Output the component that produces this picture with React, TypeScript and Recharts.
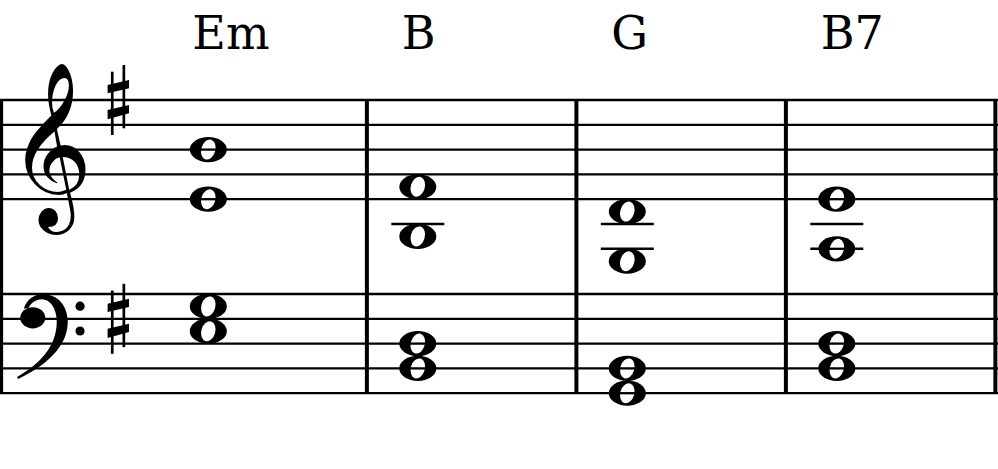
import React from 'react';
import { ScatterChart, Scatter, XAxis, YAxis, ReferenceLine } from 'recharts';

// x: measure units (the chord of measure i sits at x = i)
// y: diatonic steps, treble C4 = 0 (D4 = 1, E4 = 2, ...)
const X_DOMAIN: [number, number] = [-0.9943, 3.7695];
const Y_DOMAIN: [number, number] = [-19.758, 18.065];

const chordNames = ['Em', 'B', 'G', 'B7'];
const measureIndex = [0, 1, 2, 3];
// treble-clef notes (steps from C4): E4 B4 | B3 F#4 | G3 D4 | A3 E4
const trebleChords = [[2, 6], [-1, 3], [-3, 1], [-2, 2]];
// bass-clef notes (steps from C4): E3 G3 | B2 D3 | G2 B2 | B2 D3
const bassChords = [[-5, -3], [-8, -6], [-10, -8], [-8, -6]];
const BASS_SHIFT = -3.645;
const trebleLines = [2, 4, 6, 8, 10];
const bassLines = [-10, -8, -6, -4, -2];
const barlineX = [0.757, 1.757, 2.757, 3.757];
const systemStartX = -0.987;
const chordNameStep = 14.1;
const clefX = -0.752;
const keySigX = -0.4296;
const trebleClefStep = 4; // G4 line
const bassClefStep = -4; // F3 line
const sharpTrebleStep = 10; // F5
const sharpBassStep = -4; // F3

const STAFF_TOP = trebleLines[trebleLines.length - 1];
const STAFF_BOTTOM = bassLines[0] + BASS_SHIFT;

const isLine = (s: number) => Math.abs(s % 2) === 0;

const noteData = [
  ...trebleChords.flatMap((c, i) => c.map((s) => ({ x: measureIndex[i], y: s, onLine: isLine(s) }))),
  ...bassChords.flatMap((c, i) => c.map((s) => ({ x: measureIndex[i], y: s + BASS_SHIFT, onLine: isLine(s) }))),
];

const ledgerSteps = (chord: number[], low: number, high: number) => {
  const out: number[] = [];
  const mn = Math.min(...chord);
  const mx = Math.max(...chord);
  for (let l = low; l >= mn; l -= 2) out.push(l);
  for (let l = high; l <= mx; l += 2) out.push(l);
  return out;
};

const ledgerData = [
  ...trebleChords.flatMap((c, i) => ledgerSteps(c, 0, 12).map((l) => ({ x: measureIndex[i], y: l }))),
  ...bassChords.flatMap((c, i) => ledgerSteps(c, -12, 0).map((l) => ({ x: measureIndex[i], y: l + BASS_SHIFT }))),
];

const chordNameData = chordNames.map((n, i) => ({ x: measureIndex[i], y: chordNameStep, name: n }));

const symbolData = [
  { x: clefX, y: trebleClefStep, kind: 'treble' },
  { x: clefX, y: bassClefStep + BASS_SHIFT, kind: 'bass' },
  { x: keySigX, y: sharpTrebleStep, kind: 'sharp' },
  { x: keySigX, y: sharpBassStep + BASS_SHIFT, kind: 'sharp' },
];

const NoteOuter = (p: any) => <ellipse cx={p.cx} cy={p.cy} rx={18.5} ry={12.6} fill="#000" />;

const NoteHole = (p: any) => (
  <g>
    <ellipse cx={p.cx} cy={p.cy} rx={7} ry={10.2} transform={`rotate(16 ${p.cx} ${p.cy})`} fill="#fff" />
    {p.payload.onLine && (
      <line x1={p.cx - 10} x2={p.cx + 10} y1={p.cy} y2={p.cy} stroke="#000" strokeWidth={2.3} />
    )}
  </g>
);

const Ledger = (p: any) => (
  <line x1={p.cx - 26.5} x2={p.cx + 26.5} y1={p.cy} y2={p.cy} stroke="#000" strokeWidth={2.6} />
);

const ChordName = (p: any) => (
  <text x={p.cx - 16} y={p.cy} fontFamily="'DejaVu Serif', serif" fontSize={46} fill="#000">
    {p.payload.name}
  </text>
);

const Sharp = ({ cx, cy }: { cx: number; cy: number }) => (
  <g fill="#000">
    <rect x={cx - 7.4} y={cy - 28.3} width={2.7} height={63.3} />
    <rect x={cx + 4.2} y={cy - 35} width={2.7} height={63.3} />
    <polygon points={`${cx - 10.7},${cy - 15} ${cx + 10.7},${cy - 20} ${cx + 10.7},${cy - 11.7} ${cx - 10.7},${cy - 6.7}`} />
    <polygon points={`${cx - 10.7},${cy + 10} ${cx + 10.7},${cy + 5} ${cx + 10.7},${cy + 13.3} ${cx - 10.7},${cy + 19.3}`} />
  </g>
);

const BassClef = ({ cx, cy }: { cx: number; cy: number }) => (
  <g fill="#000" transform={`translate(${cx} ${cy})`}>
    <ellipse cx={-18} cy={-1} rx={12.5} ry={10.6} />
    <path d="M -27,-10 C -24,-20 -16,-24.5 -8,-24.5 C 8,-24.5 17,-12 17,3 C 17,28 -5,47 -32.8,60.3 L -33.6,58.2 C -12,46 6,28 6,3 C 6,-11 -1,-19.6 -9,-19.6 C -15,-19.6 -20,-16 -22,-11 Z" />
    <circle cx={29.3} cy={-12.6} r={4.6} />
    <circle cx={29.3} cy={12.2} r={4.6} />
  </g>
);

const SymbolShape = (p: any) => {
  const { cx, cy, payload } = p;
  if (payload.kind === 'sharp') return <Sharp cx={cx} cy={cy} />;
  if (payload.kind === 'bass') return <BassClef cx={cx} cy={cy} />;
  return (
    <text x={cx - 0.5} y={cy + 19} textAnchor="middle" fontFamily="'DejaVu Sans'" fontSize={143} fill="#000">
      {'\u{1D11E}'}
    </text>
  );
};

export default function App() {
  return (
    <div style={{ position: 'absolute', left: 0, top: 0 }}>
      <ScatterChart width={998} height={469} margin={{ top: 0, right: 0, bottom: 0, left: 0 }}>
        <XAxis type="number" dataKey="x" domain={X_DOMAIN} hide allowDataOverflow />
        <YAxis type="number" dataKey="y" domain={Y_DOMAIN} hide allowDataOverflow />
        {trebleLines.map((s) => (
          <ReferenceLine key={`t${s}`} y={s} stroke="#000" strokeWidth={2.3} />
        ))}
        {bassLines.map((s) => (
          <ReferenceLine key={`b${s}`} y={s + BASS_SHIFT} stroke="#000" strokeWidth={2.3} />
        ))}
        <ReferenceLine
          segment={[{ x: systemStartX, y: STAFF_TOP }, { x: systemStartX, y: STAFF_BOTTOM }]}
          stroke="#000"
          strokeWidth={3.2}
        />
        {barlineX.map((bx) => (
          <ReferenceLine
            key={`bar${bx}`}
            segment={[{ x: bx, y: STAFF_TOP }, { x: bx, y: STAFF_BOTTOM }]}
            stroke="#000"
            strokeWidth={4}
          />
        ))}
        <Scatter data={symbolData} dataKey="y" shape={SymbolShape} isAnimationActive={false} />
        <Scatter data={ledgerData} dataKey="y" shape={Ledger} isAnimationActive={false} />
        <Scatter data={noteData} dataKey="y" shape={NoteOuter} isAnimationActive={false} />
        <Scatter data={noteData} dataKey="y" shape={NoteHole} isAnimationActive={false} />
        <Scatter data={chordNameData} dataKey="y" shape={ChordName} isAnimationActive={false} />
      </ScatterChart>
    </div>
  );
}
